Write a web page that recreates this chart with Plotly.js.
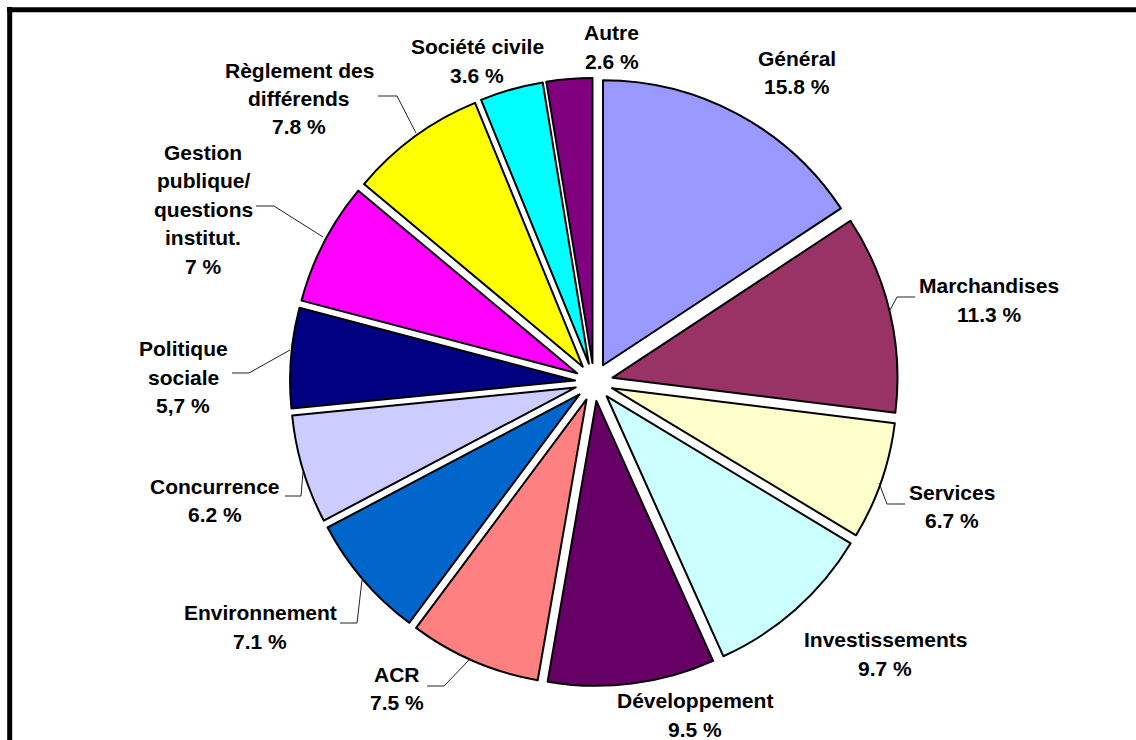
<!DOCTYPE html>
<html>
<head>
<meta charset="utf-8">
<script src="https://cdn.plot.ly/plotly-3.0.1.min.js"></script>
<style>
  html, body { margin: 0; padding: 0; background: #ffffff; }
  #chart { width: 1136px; height: 740px; }
</style>
</head>
<body>
<div id="chart"></div>
<script>
// ---- Data ----
const categories = [
  "Général", "Marchandises", "Services", "Investissements", "Développement",
  "ACR", "Environnement", "Concurrence", "Politique sociale",
  "Gestion publique/questions institut.", "Règlement des différends",
  "Société civile", "Autre"
];
const shares = [15.8, 11.3, 6.7, 9.7, 9.5, 7.5, 7.1, 6.2, 5.7, 7, 7.8, 3.6, 2.6];
// labels exactly as printed on the chart (line breaks as in the picture)
const labelLines = [
  ["Général"], ["Marchandises"], ["Services"], ["Investissements"], ["Développement"],
  ["ACR"], ["Environnement"], ["Concurrence"], ["Politique", "sociale"],
  ["Gestion", "publique/", "questions", "institut."], ["Règlement des", "différends"],
  ["Société civile"], ["Autre"]
];
const valueLabels = ["15.8 %", "11.3 %", "6.7 %", "9.7 %", "9.5 %", "7.5 %", "7.1 %",
  "6.2 %", "5,7 %", "7 %", "7.8 %", "3.6 %", "2.6 %"];
const colors = ["#9999FF", "#993366", "#FFFFCC", "#CCFFFF", "#660066", "#FF8080",
  "#0066CC", "#CCCCFF", "#000080", "#FF00FF", "#FFFF00", "#00FFFF", "#800080"];

// ---- Layout helpers (pixel -> paper) ----
const W = 1136, H = 740;
const px = (x) => x / W;
const py = (y) => 1 - y / H;

// label block centres (pixels)
const labelPos = [
  [797, 72.5], [989, 300], [952, 506.5], [885, 654], [695, 715], [397, 688.5],
  [260, 627], [215, 500.5], [183, 377.3], [203, 209.3], [299, 98.5], [477, 61], [612, 47]
];
const lineStep = 28.4;
// leader lines (pixels), null when none
const leaders = [
  null,
  [[890, 310], [897, 297], [915, 297]],
  [[879, 483], [887, 504], [905, 504]],
  null,
  null,
  [[470, 659], [444, 686], [427, 686]],
  [[362, 580], [357, 623], [340, 623]],
  [[303, 472], [301, 496], [285, 496]],
  [[290, 350], [249, 373], [232, 373]],
  [[323, 237], [274, 206], [256, 206]],
  [[416, 133], [397, 96], [378, 96]],
  null,
  null
];

const pullAmt = 0.0667;
const trace = {
  type: "pie",
  labels: categories,
  values: shares,
  sort: false,
  direction: "clockwise",
  rotation: 0,
  pull: shares.map(() => pullAmt),
  marker: { colors: colors, line: { color: "#000000", width: 2 } },
  textinfo: "none",
  hoverinfo: "label+percent",
  showlegend: false,
  domain: { x: [px(594 - 304), px(594 + 304)], y: [py(382 + 304), py(382 - 304)] }
};

const annFont = { family: "Liberation Sans, Arial, sans-serif", size: 21, color: "#000000", weight: "bold" };
const annotations = [];
labelLines.forEach((lines, i) => {
  const all = lines.concat([valueLabels[i]]);
  const n = all.length;
  all.forEach((t, k) => {
    annotations.push({
      xref: "paper", yref: "paper",
      x: px(labelPos[i][0]),
      y: py(labelPos[i][1] + (k - (n - 1) / 2) * lineStep),
      xanchor: "center", yanchor: "middle",
      text: t, showarrow: false, align: "center", font: annFont
    });
  });
});

const shapes = [];
leaders.forEach((pts) => {
  if (!pts) return;
  const d = pts.map((p, k) => (k === 0 ? "M" : "L") + px(p[0]) + "," + py(p[1])).join(" ");
  shapes.push({ type: "path", xref: "paper", yref: "paper", path: d,
    line: { color: "#222222", width: 1 } });
});
// outer frame (top and left visible)
shapes.push({ type: "line", xref: "paper", yref: "paper",
  x0: px(7), y0: py(9.7), x1: px(W), y1: py(9.7), line: { color: "#000000", width: 5 } });
shapes.push({ type: "line", xref: "paper", yref: "paper",
  x0: px(9.7), y0: py(7), x1: px(9.7), y1: py(H), line: { color: "#000000", width: 5 } });

const layout = {
  width: W, height: H,
  margin: { l: 0, r: 0, t: 0, b: 0 },
  paper_bgcolor: "#ffffff",
  plot_bgcolor: "#ffffff",
  showlegend: false,
  annotations: annotations,
  shapes: shapes
};

Plotly.newPlot("chart", [trace], layout, { displayModeBar: false, responsive: false });
</script>
</body>
</html>
